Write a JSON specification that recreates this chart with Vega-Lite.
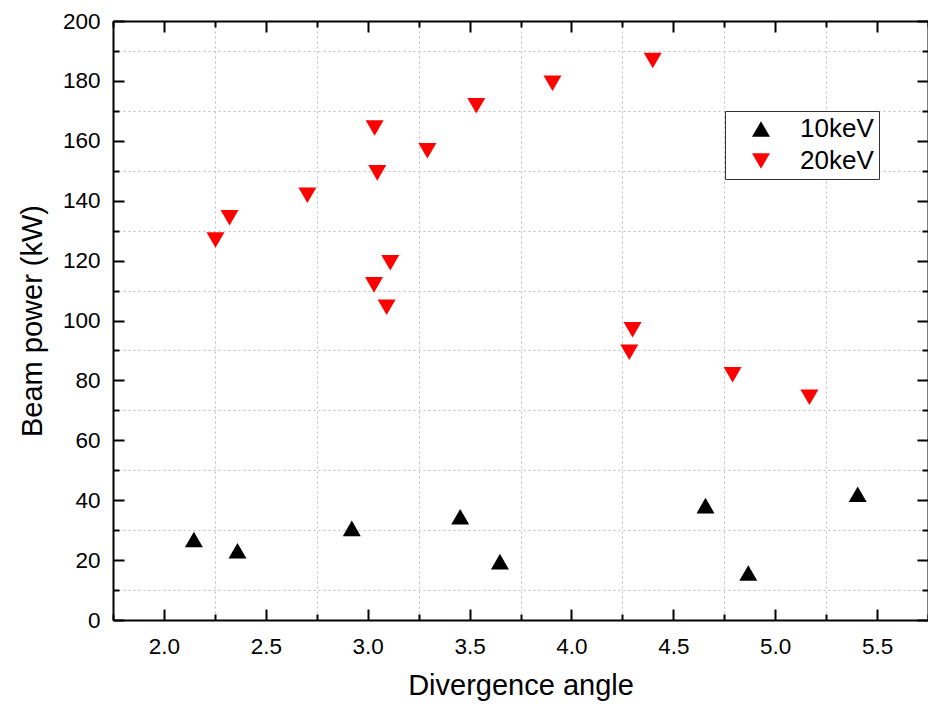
{
  "$schema": "https://vega.github.io/schema/vega-lite/v6.json",
  "width": 815,
  "height": 599,
  "autosize": "none",
  "padding": {"left": 113, "top": 21, "right": 0, "bottom": 85},
  "background": "white",
  "config": {
    "font": "Liberation Sans",
    "view": {"stroke": null},
    "axis": {
      "domainColor": "black",
      "domainWidth": 2,
      "tickColor": "black",
      "tickWidth": 2,
      "labelColor": "black",
      "titleColor": "black",
      "labelFont": "Liberation Sans",
      "titleFont": "Liberation Sans",
      "labelFontSize": 22.5,
      "titleFontSize": 29,
      "titleFontWeight": "normal",
      "gridColor": "#bdbdbd",
      "gridDash": [2, 3],
      "gridWidth": 1,
      "labelOverlap": false,
      "labelFlush": false
    }
  },
  "data": {
    "values": [
      {"angle": 2.147, "power": 26.9, "energy": "10keV"},
      {"angle": 2.361, "power": 23.1, "energy": "10keV"},
      {"angle": 2.922, "power": 30.6, "energy": "10keV"},
      {"angle": 3.454, "power": 34.5, "energy": "10keV"},
      {"angle": 3.649, "power": 19.5, "energy": "10keV"},
      {"angle": 4.658, "power": 38.2, "energy": "10keV"},
      {"angle": 4.868, "power": 15.7, "energy": "10keV"},
      {"angle": 5.405, "power": 42.0, "energy": "10keV"},
      {"angle": 2.253, "power": 126.9, "energy": "20keV"},
      {"angle": 2.322, "power": 134.3, "energy": "20keV"},
      {"angle": 2.704, "power": 141.8, "energy": "20keV"},
      {"angle": 3.034, "power": 164.3, "energy": "20keV"},
      {"angle": 3.047, "power": 149.3, "energy": "20keV"},
      {"angle": 3.031, "power": 111.9, "energy": "20keV"},
      {"angle": 3.111, "power": 119.3, "energy": "20keV"},
      {"angle": 3.093, "power": 104.4, "energy": "20keV"},
      {"angle": 3.293, "power": 156.7, "energy": "20keV"},
      {"angle": 3.533, "power": 171.7, "energy": "20keV"},
      {"angle": 3.907, "power": 179.2, "energy": "20keV"},
      {"angle": 4.399, "power": 186.8, "energy": "20keV"},
      {"angle": 4.300, "power": 96.9, "energy": "20keV"},
      {"angle": 4.284, "power": 89.4, "energy": "20keV"},
      {"angle": 4.791, "power": 81.9, "energy": "20keV"},
      {"angle": 5.168, "power": 74.4, "energy": "20keV"}
    ]
  },
  "resolve": {"axis": {"x": "independent", "y": "independent"}},
  "layer": [
    {
      "mark": {"type": "point", "filled": true, "opacity": 1, "size": 324, "strokeWidth": 0},
      "encoding": {
        "x": {
          "field": "angle", "type": "quantitative",
          "scale": {"domain": [1.75, 5.75], "nice": false, "zero": false},
          "axis": {
            "orient": "bottom",
            "title": "Divergence angle",
            "values": [1.75, 2, 2.25, 2.5, 2.75, 3, 3.25, 3.5, 3.75, 4, 4.25, 4.5, 4.75, 5, 5.25, 5.5, 5.75],
            "format": ".1f",
            "labelExpr": "abs(datum.value*2 - round(datum.value*2)) < 0.001 ? datum.label : ''",
            "tickSize": {"condition": {"test": "abs(datum.value*2 - round(datum.value*2)) < 0.001", "value": -11}, "value": -6},
            "labelPadding": {"condition": {"test": "abs(datum.value*2 - round(datum.value*2)) < 0.001", "value": 26}, "value": 21},
            "grid": true,
            "gridOpacity": {"condition": {"test": "abs(datum.value*2 - round(datum.value*2)) < 0.001", "value": 0}, "value": 1},
            "titlePadding": 14
          }
        },
        "y": {
          "field": "power", "type": "quantitative",
          "scale": {"domain": [0, 200], "nice": false},
          "axis": {
            "orient": "left",
            "title": "Beam power (kW)",
            "values": [0, 10, 20, 30, 40, 50, 60, 70, 80, 90, 100, 110, 120, 130, 140, 150, 160, 170, 180, 190, 200],
            "labelExpr": "datum.value % 20 == 0 ? datum.label : ''",
            "tickSize": {"condition": {"test": "datum.value % 20 == 0", "value": -11}, "value": -6},
            "labelPadding": {"condition": {"test": "datum.value % 20 == 0", "value": 24}, "value": 19},
            "grid": true,
            "gridOpacity": {"condition": {"test": "datum.value % 20 == 0", "value": 0}, "value": 1},
            "titlePadding": 15
          }
        },
        "shape": {
          "field": "energy", "type": "nominal",
          "scale": {"domain": ["10keV", "20keV"], "range": ["triangle-up", "triangle-down"]},
          "legend": {
            "title": null,
            "orient": "none",
            "legendX": 612,
            "legendY": 90,
            "strokeColor": "#333333",
            "fillColor": "white",
            "padding": 5,
            "symbolOffset": 18,
            "symbolSize": 324,
            "symbolStrokeWidth": 0,
            "labelFontSize": 26,
            "labelFont": "Liberation Sans",
            "labelColor": "black",
            "labelOffset": 26,
            "rowPadding": 6
          }
        },
        "color": {
          "field": "energy", "type": "nominal",
          "scale": {"domain": ["10keV", "20keV"], "range": ["#000000", "#ff0000"]},
          "legend": {
            "title": null,
            "orient": "none",
            "legendX": 612,
            "legendY": 90,
            "strokeColor": "#333333",
            "fillColor": "white",
            "padding": 5,
            "symbolOffset": 18,
            "symbolSize": 324,
            "symbolStrokeWidth": 0,
            "labelFontSize": 26,
            "labelFont": "Liberation Sans",
            "labelColor": "black",
            "labelOffset": 26,
            "rowPadding": 6
          }
        }
      }
    },
    {
      "mark": {"type": "point", "opacity": 0},
      "encoding": {
        "x": {
          "field": "angle", "type": "quantitative",
          "axis": {
            "orient": "top",
            "title": null,
            "values": [1.75, 2, 2.25, 2.5, 2.75, 3, 3.25, 3.5, 3.75, 4, 4.25, 4.5, 4.75, 5, 5.25, 5.5, 5.75],
            "labels": false,
            "grid": false,
            "tickSize": {"condition": {"test": "abs(datum.value*2 - round(datum.value*2)) < 0.001", "value": -11}, "value": -6}
          }
        },
        "y": {
          "field": "power", "type": "quantitative",
          "axis": {
            "orient": "right",
            "title": null,
            "values": [0, 10, 20, 30, 40, 50, 60, 70, 80, 90, 100, 110, 120, 130, 140, 150, 160, 170, 180, 190, 200],
            "labels": false,
            "grid": false,
            "tickSize": {"condition": {"test": "datum.value % 20 == 0", "value": -11}, "value": -6}
          }
        }
      }
    }
  ]
}
